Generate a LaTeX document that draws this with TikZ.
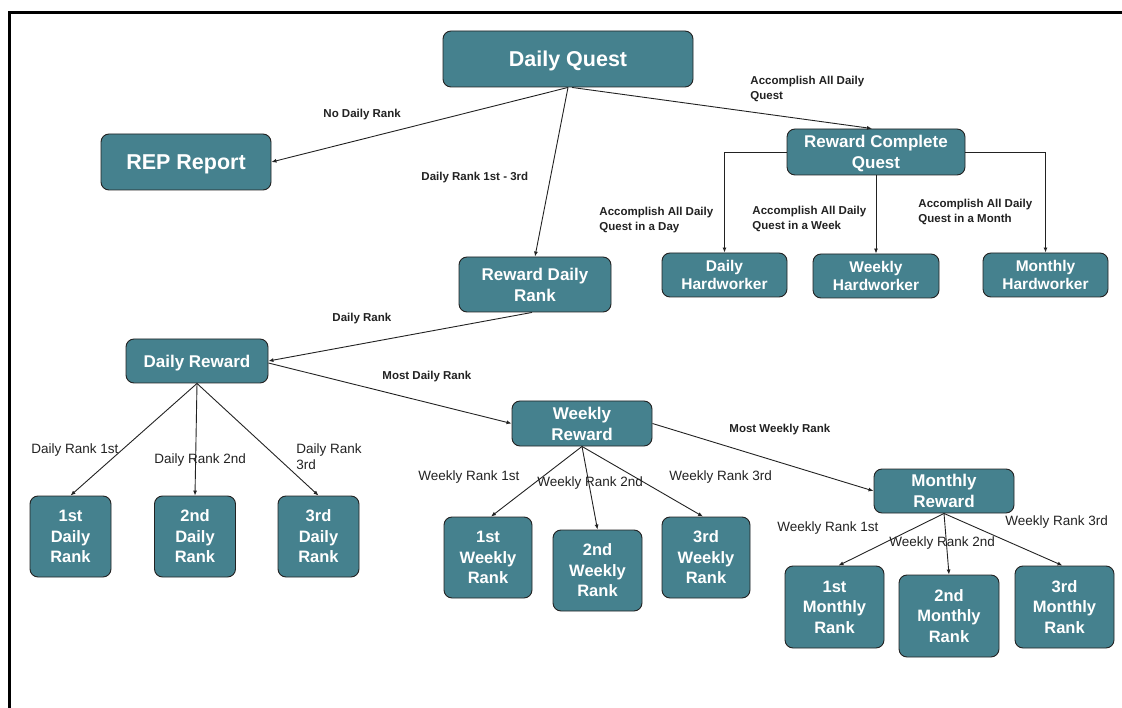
\documentclass[tikz,border=0pt]{standalone}
\usepackage{fontspec}
\setmainfont{Liberation Sans}
\usetikzlibrary{arrows.meta}
\definecolor{qteal}{HTML}{45818E}
\definecolor{qline}{HTML}{222222}

\begin{document}
\begin{tikzpicture}[x=1pt,y=-1pt, line width=0.9pt,
  box/.style={draw=qline, fill=qteal, rounded corners=8pt, text=white, align=center, inner sep=0pt, text depth=0pt, font=\bfseries\fontsize{17}{21}\selectfont},
  sz/.style 2 args={minimum width=#1pt, minimum height=#2pt},
  big/.style={font=\bfseries\fontsize{21.5}{25}\selectfont},
  hw/.style={font=\bfseries\fontsize{15.5}{18.5}\selectfont},
  rk/.style={font=\bfseries\fontsize{16.5}{20.5}\selectfont},
  lbl/.style={anchor=west, align=left, text=qline, inner sep=0pt, text depth=0pt, font=\bfseries\fontsize{11.5}{15}\selectfont},
  rlbl/.style={anchor=west, align=left, text=qline, inner sep=0pt, text depth=0pt, font=\fontsize{13.5}{16}\selectfont},
  arr/.style={draw=qline, -{Latex[length=5pt,width=4pt]}}]
\useasboundingbox (0,0) rectangle (1122,708);
\draw[line width=3pt] (9.5,708)--(9.5,12.5)--(1122,12.5);

\node[box,big,sz={250}{56}] (dq) at (568,59) {Daily Quest};
\node[box,big,sz={170}{56}] (rep) at (186,162) {REP Report};
\node[box,sz={178}{46}] (rcq) at (876,152) {Reward Complete\\Quest};
\node[box,sz={152}{55}] (rdr) at (535,284.5) {Reward Daily\\Rank};
\node[box,hw,sz={125}{44}] (dhw) at (724.5,275) {Daily\\Hardworker};
\node[box,hw,sz={126}{44}] (whw) at (876,276) {Weekly\\Hardworker};
\node[box,hw,sz={125}{44}] (mhw) at (1045.5,275) {Monthly\\Hardworker};
\node[box,sz={142}{44}] (dr) at (197,361) {Daily Reward};
\node[box,sz={140}{45}] (wr) at (582,423.5) {Weekly\\Reward};
\node[box,sz={140}{44}] (mr) at (944,491) {Monthly\\Reward};
\node[box,rk,sz={81}{81}] (dr1) at (70.5,536.5) {1st\\Daily\\Rank};
\node[box,rk,sz={81}{81}] (dr2) at (195,536.5) {2nd\\Daily\\Rank};
\node[box,rk,sz={81}{81}] (dr3) at (318.5,536.5) {3rd\\Daily\\Rank};
\node[box,rk,sz={88}{81}] (wr1) at (488,557.5) {1st\\Weekly\\Rank};
\node[box,rk,sz={89}{81}] (wr2) at (597.5,570.5) {2nd\\Weekly\\Rank};
\node[box,rk,sz={88}{81}] (wr3) at (706,557.5) {3rd\\Weekly\\Rank};
\node[box,rk,sz={99}{82}] (mr1) at (834.5,607) {1st\\Monthly\\Rank};
\node[box,rk,sz={100}{82}] (mr2) at (949,616) {2nd\\Monthly\\Rank};
\node[box,rk,sz={99}{82}] (mr3) at (1064.5,607) {3rd\\Monthly\\Rank};

\draw[arr] (dq.south)--(rep.east);
\draw[arr] (dq.south)--(rdr.north);
\draw[arr] ([xshift=4pt]dq.south)--([xshift=-4pt]rcq.north);
\draw[arr] (rcq.west)-|(dhw.north);
\draw[arr] (rcq.south)--(whw.north);
\draw[arr] (rcq.east)-|(mhw.north);
\draw[arr] ([xshift=-3pt]rdr.south)--(dr.east);
\draw[arr] ([yshift=-2pt]dr.east)--(wr.west);
\draw[arr] (wr.east)--(mr.west);
\draw[arr] (dr.south)--(dr1.north);
\draw[arr] (dr.south)--(dr2.north);
\draw[arr] (dr.south)--(dr3.north);
\draw[arr] (wr.south)--([xshift=3pt]wr1.north);
\draw[arr] (wr.south)--(wr2.north);
\draw[arr] (wr.south)--([xshift=-3pt]wr3.north);
\draw[arr] (mr.south)--([xshift=4pt]mr1.north);
\draw[arr] (mr.south)--(mr2.north);
\draw[arr] (mr.south)--([xshift=-2pt]mr3.north);

\node[lbl] (lnone) at (323,113) {No Daily Rank};
\node[lbl] (ltop) at (421,176) {Daily Rank 1st - 3rd};
\node[lbl] (lall) at (750,87.5) {Accomplish All Daily\\Quest};
\node[lbl] (lday) at (599,218.5) {Accomplish All Daily\\Quest in a Day};
\node[lbl] (lweek) at (752,217.5) {Accomplish All Daily\\Quest in a Week};
\node[lbl] (lmonth) at (918,210.5) {Accomplish All Daily\\Quest in a Month};
\node[lbl] (lrank) at (332,317) {Daily Rank};
\node[lbl] (lmostd) at (382,375) {Most Daily Rank};
\node[lbl] (lmostw) at (729,428) {Most Weekly Rank};
\node[rlbl] (ld1) at (31,449) {Daily Rank 1st};
\node[rlbl] (ld2) at (154,459) {Daily Rank 2nd};
\node[rlbl] (ld3) at (296,457) {Daily Rank\\3rd};
\node[rlbl] (lw1) at (418,476) {Weekly Rank 1st};
\node[rlbl] (lw2) at (537,482) {Weekly Rank 2nd};
\node[rlbl] (lw3) at (669,476) {Weekly Rank 3rd};
\node[rlbl] (lm1) at (777,527) {Weekly Rank 1st};
\node[rlbl] (lm2) at (889,542) {Weekly Rank 2nd};
\node[rlbl] (lm3) at (1005,521) {Weekly Rank 3rd};
\end{tikzpicture}
\end{document}
